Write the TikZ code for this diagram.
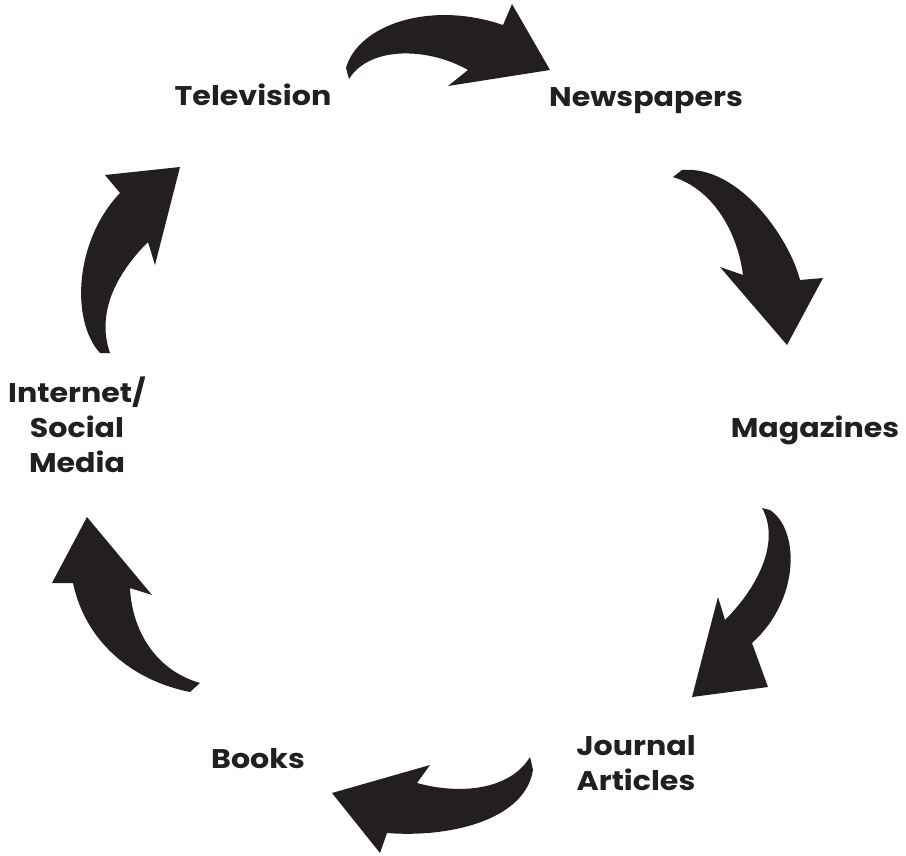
\documentclass[tikz,border=0pt]{standalone}
\usepackage{fontspec}
\usepackage{graphicx}
\setmainfont{Poppins}
\newcommand{\widelbl}[1]{\scalebox{1.115}[1]{#1}}
\begin{document}
\begin{tikzpicture}[x=1pt,y=-1pt,
  arrowfill/.style={fill=ink,draw=none},
  lbl/.style={text=ink,font=\fontsize{27}{35}\selectfont\bfseries,inner sep=0pt,align=center}]
\definecolor{ink}{HTML}{231F20}
\useasboundingbox (0,0) rectangle (906,856);
% arrows
\fill[arrowfill] (349,79) -- (346,68) .. controls (358,25) and (430,0) .. (503,25)
  -- (512,4) -- (550,70) -- (448,86) -- (468,70)
  .. controls (430,48) and (370,45) .. (349,79) -- cycle;
\fill[arrowfill] (673,177) -- (682,170) .. controls (740,165) and (790,240) .. (800,280)
  -- (823,278) -- (787,345) -- (720,267) -- (743,275)
  .. controls (738,235) and (715,190) .. (673,177) -- cycle;
\fill[arrowfill] (762,508) -- (770,510) .. controls (800,530) and (800,600) .. (752,643)
  -- (768,687) -- (692,697) -- (718,597) -- (725,620)
  .. controls (760,585) and (780,540) .. (762,508) -- cycle;
\fill[arrowfill] (530,757) .. controls (510,790) and (460,795) .. (417,783)
  -- (430,765) -- (332,793) -- (380,853) -- (387,833)
  .. controls (450,838) and (525,820) .. (533,770) -- cycle;
\fill[arrowfill] (200,683) -- (190,692) .. controls (130,680) and (85,640) .. (73,583)
  -- (52,583) -- (87,517) -- (152,595) -- (130,588)
  .. controls (132,630) and (155,670) .. (200,683) -- cycle;
\fill[arrowfill] (110,353) -- (100,353) .. controls (70,320) and (75,240) .. (120,193)
  -- (105,175) -- (180,167) -- (155,265) -- (148,242)
  .. controls (120,270) and (95,310) .. (110,353) -- cycle;
% labels (base = baseline of the last line)
\node[lbl,anchor=base] (tv) at (253,106) {\widelbl{Television}};
\node[lbl,anchor=base] (news) at (646,107) {\widelbl{Newspapers}};
\node[lbl,anchor=base] (mag) at (815,437) {\widelbl{Magazines}};
\node[lbl,anchor=base] (jour) at (636,790) {\widelbl{Journal}\\\widelbl{Articles}};
\node[lbl,anchor=base] (books) at (258,768) {\widelbl{Books}};
\node[lbl,anchor=base] (net) at (77,472) {\widelbl{Internet/}\\\widelbl{Social}\\\widelbl{Media}};
\end{tikzpicture}
\end{document}
